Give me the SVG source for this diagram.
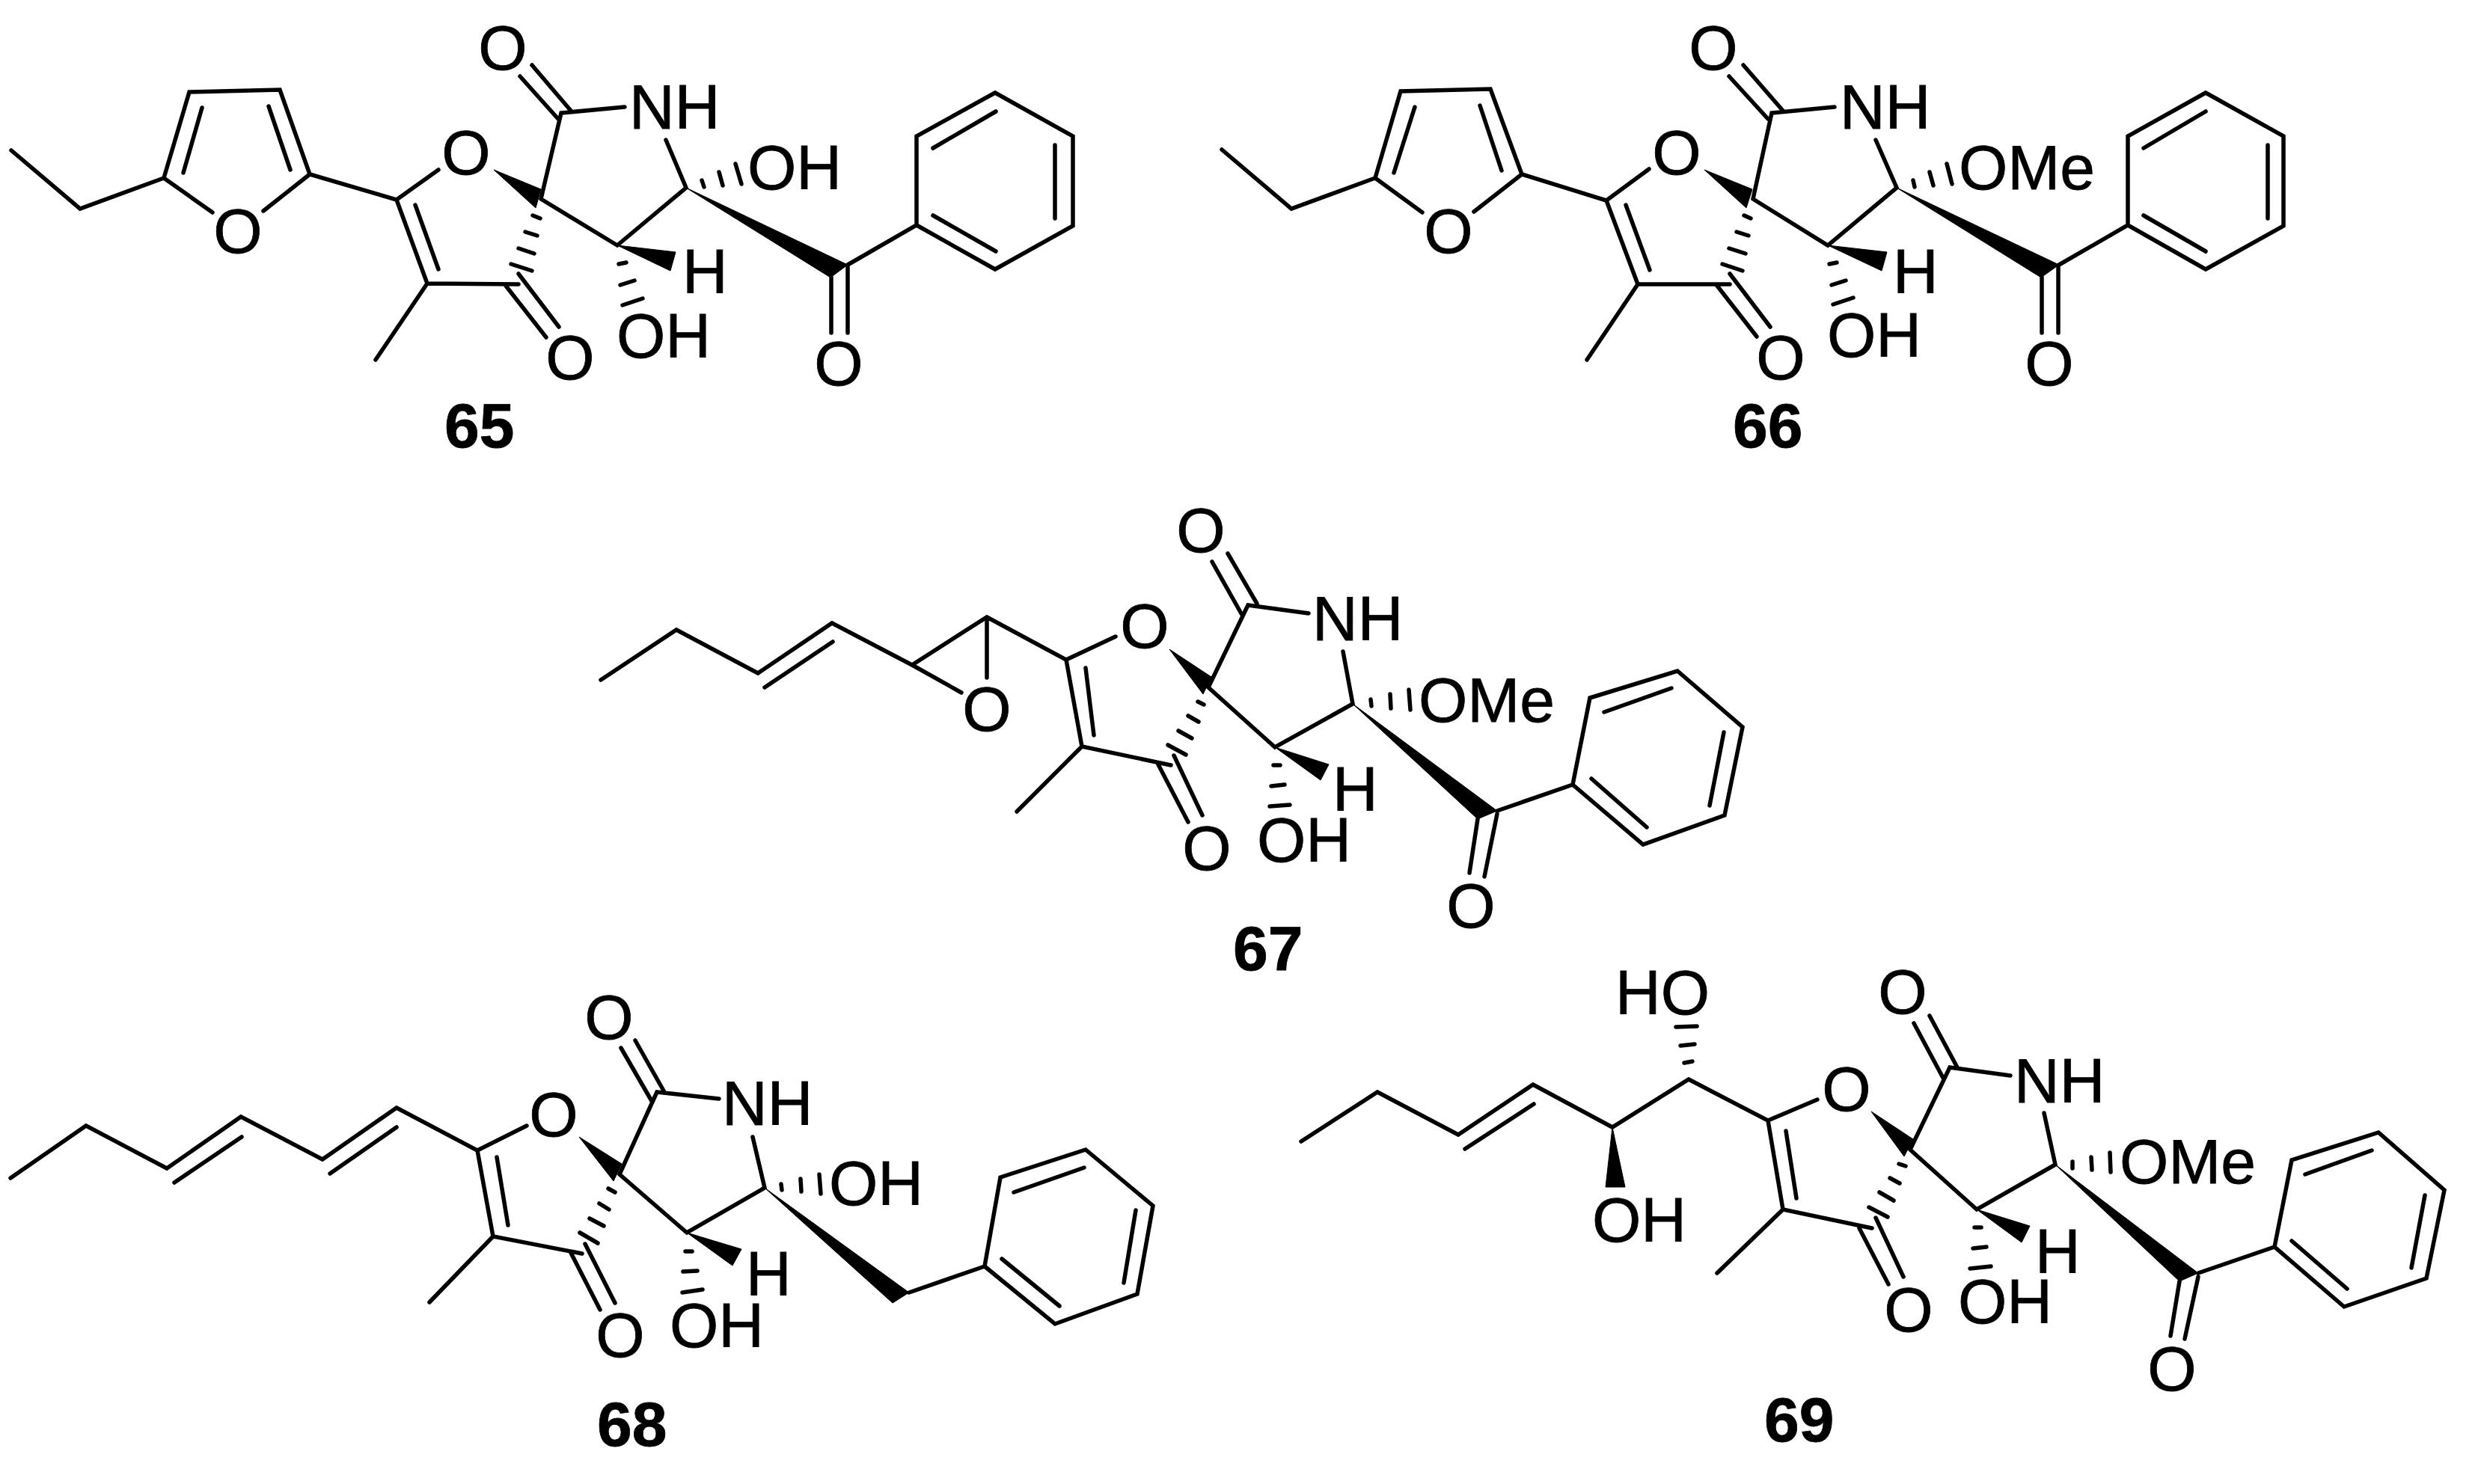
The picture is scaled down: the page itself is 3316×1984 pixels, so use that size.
<svg xmlns="http://www.w3.org/2000/svg" width="3316" height="1984" viewBox="0 0 3316 1984">
<style>
.b{fill:none;stroke:#000;stroke-width:5.5;stroke-linejoin:miter;stroke-linecap:round}
.h{fill:none;stroke:#000;stroke-width:5.5;stroke-linecap:round}
.w{fill:#000;stroke:#000;stroke-width:1;stroke-linejoin:round}
text{font-family:"Liberation Sans",Arial,sans-serif;font-size:84px;fill:#000;stroke:#000;stroke-width:.8}
.m{text-anchor:middle}
.n{font-weight:bold;font-size:84px}
</style>
<rect width="3316" height="1984" fill="#fff"/>
<g id="compound-65">
<g class="bonds">
<path class="b" d="M15 201L107 279L219 238L253 123L374 120L414 233L530 267L571 379L693 380M219 238L284 284M414 233L352 282M245 231L270 144M388 227L359 142M530 267L586 227M555 274L586 360M571 379L502 481M676 382L730 451M693 366L747 437M723 266L750 151L835 143M695 102L746 159M711 87L763 148M723 266L825 328L917 251L890 187M1133 354L1225 301L1225 182L1330 124L1434 182L1434 302L1330 360L1225 301M1111 371V445M1133 356V445M1247 198L1331 149M1410 194V292M1247 288L1331 336"/>
<path class="w" d="M660 227L723 253L716 278ZM825 328L903 337L896 362ZM917 251L1133 354L1110 371Z"/>
<path class="h" d="M712 288L722 292M702 310L718 315M693 332L714 339M683 353L711 362M827 353L837 351M829 381L848 375M832 408L859 399M938 241L941 250M961 230L966 248M983 219L991 246"/>
</g>
<g class="labels">
<text x="318" y="338" class="m">O</text><text x="623" y="233" class="m">O</text><text x="672" y="93" class="m">O</text><text x="762" y="507" class="m">O</text><text x="1121" y="515" class="m">O</text>
<text x="841" y="172">NH</text><text x="999" y="253">OH</text><text x="912" y="392">H</text><text x="824" y="478">OH</text>
<text x="594" y="598" class="n">65</text>
</g>
</g>
<g id="compound-66">
<g class="bonds">
<path class="b" d="M1633 200L1726 279L1838 238L1872 122L1992 119L2034 233L2147 268L2189 380L2312 380M1838 238L1901 284M2034 233L1970 283M1863 231L1891 143M2007 228L1978 141M2147 268L2204 226M2173 274L2205 361M2189 380L2121 481M2295 382L2348 450M2312 366L2366 437M2343 266L2368 151L2452 143M2311 102L2363 159M2330 87L2383 148M2343 266L2443 328L2535 251L2507 187M2752 354L2844 301L2844 182L2948 124L3052 182L3052 302L2948 360L2844 301M2729 371V445M2751 356V445M2865 198L2948 149M3031 194V292M2865 288L2948 336"/>
<path class="w" d="M2278 227L2342 253L2334 278ZM2443 328L2522 337L2515 362ZM2535 251L2752 354L2728 371Z"/>
<path class="h" d="M2331 288L2340 292M2321 310L2337 315M2311 332L2333 339M2302 353L2329 362M2445 353L2455 351M2448 381L2467 375M2450 407L2477 398M2557 241L2559 250M2579 230L2584 248M2602 219L2609 246"/>
</g>
<g class="labels">
<text x="1936" y="338" class="m">O</text><text x="2241" y="233" class="m">O</text><text x="2290" y="93" class="m">O</text><text x="2380" y="507" class="m">O</text><text x="2739" y="515" class="m">O</text>
<text x="2459" y="172">NH</text><text x="2618" y="253">OMe</text><text x="2530" y="392">H</text><text x="2442" y="477">OH</text>
<text x="2316" y="598" class="n">66</text>
</g>
</g>
<g id="compound-67">
<g class="bonds">
<path class="b" d="M803 909L904 842L1013 900L1112 833L1219 889L1319 825L1425 882L1446 998L1565 1023M1022 919L1113 858M1219 889L1285 926M1319 825V906M1425 882L1491 851M1451 893L1462 983M1446 998L1359 1085M1548 1022L1588 1099M1569 1010L1607 1090M1615 919L1668 809L1749 820M1620 751L1660 822M1641 740L1680 807M1615 919L1704 999L1808 941L1795 871M2001 1084L2102 1049L2125 933L2242 897L2329 972L2305 1090L2196 1129L2102 1049M1975 1095L1964 1167M2001 1088L1984 1172M2144 952L2234 920M2304 979L2285 1077M2127 1041L2201 1106"/>
<path class="w" d="M1563 868L1619 905L1608 928ZM1704 999L1776 1022L1765 1043ZM1808 941L2001 1084L1975 1095Z"/>
<path class="h" d="M1601 938L1609 942M1588 957L1602 965M1575 977L1593 987M1561 996L1585 1009M1702 1023H1711M1699 1051L1717 1049M1697 1078L1724 1076M1832 935L1833 944M1858 928L1859 947M1883 922L1885 949"/>
</g>
<g class="labels">
<text x="1319" y="977" class="m">O</text><text x="1530" y="866" class="m">O</text><text x="1605" y="738" class="m">O</text><text x="1613" y="1163" class="m">O</text><text x="1966" y="1240" class="m">O</text>
<text x="1754" y="856">NH</text><text x="1896" y="965">OMe</text><text x="1781" y="1084">H</text><text x="1680" y="1152">OH</text>
<text x="1648" y="1297" class="n">67</text>
</g>
</g>
<g id="compound-68">
<g class="bonds">
<path class="b" d="M14 1575L115 1505L223 1562L322 1493L431 1550L530 1481L638 1538L659 1653L778 1676M233 1581L323 1520M441 1569L530 1507M638 1538L704 1505M664 1547L679 1638M659 1653L574 1741M762 1673L802 1751M782 1663L822 1742M828 1570L878 1460L961 1469M830 1401L871 1472M849 1391L888 1460M828 1570L918 1648L1022 1588L1006 1520M1215 1728L1316 1693L1337 1574L1451 1537L1541 1612L1520 1730L1410 1770L1316 1693M1355 1594L1449 1561M1518 1618L1502 1715M1339 1683L1416 1746"/>
<path class="w" d="M774 1520L831 1556L820 1579ZM918 1648L991 1670L979 1692ZM1022 1588L1215 1728L1193 1742Z"/>
<path class="h" d="M813 1589L822 1594M801 1609L814 1617M788 1629L807 1639M775 1648L799 1662M916 1673H925M913 1700L932 1699M912 1728L939 1724M1044 1583L1045 1591M1070 1576L1071 1593M1095 1570L1097 1596"/>
</g>
<g class="labels">
<text x="740" y="1519" class="m">O</text><text x="814" y="1389" class="m">O</text><text x="829" y="1814" class="m">O</text>
<text x="965" y="1504">NH</text><text x="1108" y="1611">OH</text><text x="997" y="1732">H</text><text x="895" y="1801">OH</text>
<text x="798" y="1933" class="n">68</text>
</g>
</g>
<g id="compound-69">
<g class="bonds">
<path class="b" d="M1739 1526L1841 1460L1949 1517L2049 1450L2155 1507L2257 1443L2363 1498L2383 1617L2502 1642M1958 1536L2050 1476M2363 1498L2429 1470M2387 1512L2401 1602M2383 1617L2295 1702M2485 1642L2524 1717M2507 1628L2544 1707M2553 1537L2606 1427L2687 1438M2558 1368L2597 1441M2579 1358L2616 1427M2553 1537L2642 1617L2747 1557L2732 1488M2938 1702L3040 1667L3063 1551L3179 1514L3267 1591L3243 1709L3133 1747L3040 1667M2913 1713L2901 1786M2938 1707L2920 1790M3081 1570L3170 1538M3241 1598L3223 1695M3063 1659L3137 1723"/>
<path class="w" d="M2155 1507L2172 1587H2146ZM2501 1486L2557 1523L2545 1546ZM2642 1617L2713 1639L2702 1661ZM2747 1557L2938 1702L2913 1713Z"/>
<path class="h" d="M2251 1421L2262 1419M2246 1398L2265 1396M2240 1373L2268 1372M2538 1556L2547 1559M2526 1575L2539 1582M2512 1594L2531 1605M2498 1614L2523 1627M2639 1641H2648M2637 1669L2655 1667M2633 1696L2661 1693M2770 1553V1562M2795 1547L2796 1564M2820 1541L2821 1567"/>
</g>
<g class="labels">
<text x="2468" y="1485" class="m">O</text><text x="2543" y="1355" class="m">O</text><text x="2551" y="1780" class="m">O</text><text x="2903" y="1859" class="m">O</text>
<text x="2692" y="1474">NH</text><text x="2833" y="1582">OMe</text><text x="2720" y="1702">H</text><text x="2617" y="1769">OH</text><text x="2128" y="1660">OH</text><text x="2159" y="1356">HO</text>
<text x="2358" y="1927" class="n">69</text>
</g>
</g>
</svg>
